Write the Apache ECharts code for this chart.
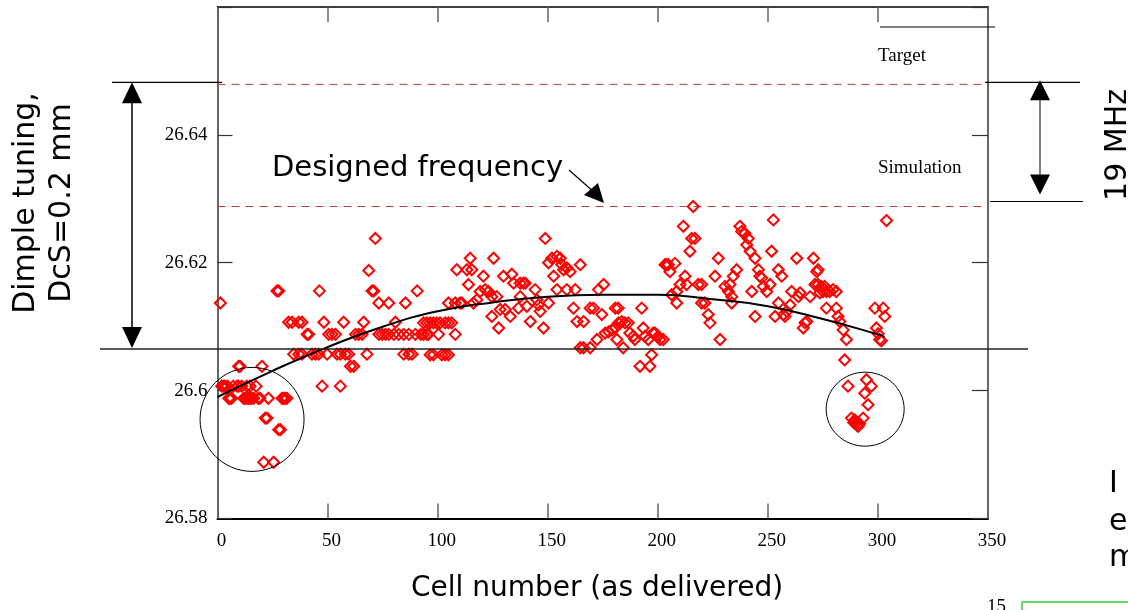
<!DOCTYPE html>
<html><head><meta charset="utf-8">
<script src="https://cdn.jsdelivr.net/npm/echarts@6/dist/echarts.min.js"></script>
<style>html,body{margin:0;padding:0;background:#fff}#c{width:1128px;height:610px}</style>
</head><body><div id="c"></div>
<script>
// ---- data ----
const xTickLabels = ['0','50','100','150','200','250','300','350'];
const yTickLabels = ['26.58','26.6','26.62','26.64',''];
const targetLevel = 26.6479;      // "Target" dashed line
const simulationLevel = 26.6288;  // "Simulation" dashed line
const designLevel = 26.6065;      // solid reference line
const levelSpan = [0, 350];       // cell range spanned by the dashed levels
const xTitle = 'Cell number (as delivered)';
const yTitle = 'Dimple tuning,\nDcS=0.2 mm';
const designText = 'Designed frequency';

// measured cells: [cell number, frequency GHz]
const measured = [
[1.3,26.6137],[1.9,26.6007],[2.6,26.6007],[3.4,26.6007],[4.5,26.6007],[7.2,26.6007],[8.9,26.6007],[9.5,26.6007],[11.0,26.6007],[13.3,26.6007],[14.8,26.6007],[17.5,26.6007],
[5.1,26.5988],[5.7,26.5988],[6.4,26.5988],[11.9,26.5988],[12.5,26.5988],[13.4,26.5988],[14.0,26.5988],[14.8,26.5988],[15.5,26.5988],[16.4,26.5988],[18.5,26.5988],[19.3,26.5988],[23.1,26.5988],[29.3,26.5988],[29.9,26.5988],[30.7,26.5988],[31.5,26.5988],
[9.6,26.6038],[10.2,26.6038],[20.2,26.6038],
[21.7,26.5957],[22.5,26.5957],[27.8,26.5939],[28.6,26.5939],[21.0,26.5888],[25.5,26.5888],
[27.0,26.6156],[27.8,26.6156],[46.3,26.6156],
[32.3,26.6107],[33.9,26.6107],[36.9,26.6107],[38.4,26.6107],[48.3,26.6107],[57.3,26.6107],[66.4,26.6107],
[40.7,26.6088],[41.4,26.6088],[50.5,26.6088],[52.0,26.6088],[53.6,26.6088],[62.7,26.6088],[64.2,26.6088],[65.7,26.6088],[73.3,26.6088],[74.8,26.6088],[76.3,26.6088],[77.8,26.6088],[80.1,26.6088],[82.3,26.6088],[84.6,26.6088],[86.9,26.6088],[89.9,26.6088],[92.4,26.6088],
[34.6,26.6057],[36.9,26.6057],[38.4,26.6057],[42.9,26.6057],[44.5,26.6057],[46.0,26.6057],[49.8,26.6057],[54.3,26.6057],[55.8,26.6057],[58.1,26.6057],[59.6,26.6057],[67.9,26.6057],[84.6,26.6057],[86.9,26.6057],[88.4,26.6057],
[60.4,26.6038],[61.9,26.6038],[47.5,26.6007],[55.8,26.6007],
[68.7,26.6188],[70.2,26.6156],[71.0,26.6156],[90.7,26.6156],[71.7,26.6238],
[73.3,26.6137],[77.8,26.6137],[85.4,26.6137],[80.8,26.6107],
[93.6,26.6106],[95.1,26.6106],[96.6,26.6106],[98.1,26.6106],[99.6,26.6106],[101.1,26.6106],[103.4,26.6106],[104.9,26.6106],[106.4,26.6106],
[93.6,26.6088],[95.1,26.6088],[95.8,26.6088],[100.4,26.6088],[108.0,26.6088],
[96.6,26.6056],[98.1,26.6056],[101.9,26.6056],[103.4,26.6056],[104.9,26.6056],
[104.9,26.6137],[108.0,26.6137],[110.2,26.6137],[111.0,26.6137],[116.3,26.6137],[117.8,26.6142],
[119.3,26.6155],[123.1,26.6155],[121.6,26.6158],[124.6,26.6147],[126.9,26.6147],
[108.7,26.6189],[113.3,26.6189],[115.5,26.6189],[114.8,26.6207],[125.4,26.6207],[114.0,26.6166],
[120.8,26.6179],[129.9,26.6179],[133.7,26.6182],[134.5,26.6168],[137.5,26.6168],[139.0,26.6168],[139.8,26.6168],
[124.6,26.6116],[127.7,26.6098],[128.4,26.6127],[130.7,26.6127],[133.0,26.6116],[136.7,26.6129],[137.5,26.6147],
[140.5,26.6132],[142.1,26.6108],[144.3,26.6158],[145.1,26.6142],[145.8,26.6134],[146.6,26.6124],[148.1,26.6098],[150.4,26.6137],
[148.9,26.6238],[151.9,26.6207],[155.7,26.6207],[152.7,26.6179],[154.2,26.6210],[156.4,26.6197],[164.8,26.6197],
[157.2,26.6189],[158.7,26.6192],[160.2,26.6186],[150.4,26.6200],
[154.2,26.6158],[158.7,26.6158],[162.5,26.6158],
[161.7,26.6129],[169.3,26.6129],[170.8,26.6129],[180.7,26.6129],[163.3,26.6108],[166.3,26.6108],
[173.1,26.6158],[175.4,26.6166],[174.6,26.6119],
[164.8,26.6067],[166.3,26.6067],[169.3,26.6067],[172.4,26.6080],[181.4,26.6080],[176.1,26.6090],[177.7,26.6092],[179.2,26.6095],[180.7,26.6098],[182.2,26.6106],
[182.0,26.6129],[183.6,26.6108],[185.1,26.6106],[186.6,26.6106],[187.3,26.6090],[188.9,26.6085],[189.6,26.6080],
[192.7,26.6129],[193.4,26.6098],[194.2,26.6085],[195.7,26.6080],[197.2,26.6056],[196.4,26.6038],[191.9,26.6038],
[197.9,26.6090],[198.7,26.6090],[200.2,26.6085],[201.0,26.6080],[202.5,26.6080],[184.3,26.6067],
[216.1,26.6288],[211.6,26.6257],[215.4,26.6238],[216.9,26.6238],[214.6,26.6218],
[203.3,26.6197],[204.0,26.6197],[204.8,26.6197],[205.5,26.6186],[207.8,26.6199],
[212.4,26.6179],[210.1,26.6166],[208.6,26.6155],[213.1,26.6166],[218.4,26.6166],[219.9,26.6166],
[206.3,26.6150],[208.6,26.6137],[219.9,26.6137],[221.4,26.6137],[222.9,26.6119],[223.7,26.6106],
[226.0,26.6179],[227.5,26.6207],[228.3,26.6080],[230.5,26.6163],[232.1,26.6155],[232.8,26.6166],
[234.3,26.6179],[235.8,26.6189],[233.6,26.6147],[233.6,26.6137],
[237.3,26.6257],[238.1,26.6249],[239.6,26.6246],[241.1,26.6238],[240.4,26.6228],[241.9,26.6218],[244.2,26.6207],
[251.7,26.6218],[252.5,26.6267],[245.7,26.6189],[246.4,26.6179],[247.2,26.6176],[248.0,26.6163],[249.5,26.6155],
[251.0,26.6166],[254.8,26.6189],[256.3,26.6179],[242.7,26.6155],[244.2,26.6116],[253.3,26.6116],[254.8,26.6137],
[257.1,26.6119],[258.6,26.6124],[260.1,26.6134],[260.8,26.6155],[263.1,26.6207],[263.9,26.6147],[264.6,26.6153],
[266.9,26.6106],[266.1,26.6098],[267.7,26.6108],[269.2,26.6147],[270.7,26.6207],[271.4,26.6166],[272.2,26.6186],[257.8,26.6116],
[272.8,26.6189],[272.8,26.6166],[274.3,26.6163],[275.1,26.6155],[276.6,26.6155],[278.1,26.6155],[279.6,26.6158],[281.1,26.6155],[273.6,26.6153],[275.8,26.6163],
[276.6,26.6129],[281.1,26.6129],[281.9,26.6116],[282.7,26.6108],[284.2,26.6095],[285.7,26.6080],
[284.9,26.6048],[286.4,26.6007],[294.8,26.6017],[297.0,26.6007],[294.0,26.5996],[295.5,26.5978],[293.3,26.5957],
[288.0,26.5957],[289.5,26.5954],[290.2,26.5950],[291.0,26.5944],[291.7,26.5948],[289.0,26.5950],[290.5,26.5946],
[298.6,26.6129],[302.4,26.6129],[303.1,26.6116],[299.3,26.6098],[300.1,26.6089],[300.8,26.6080],[301.6,26.6078],
[303.9,26.6266]
];

// polynomial fit curve through the data
const fitCurve = [
[0,26.5990],[25,26.6031],[50,26.6068],[75,26.6100],[100,26.6124],[125,26.6138],[150,26.6147],
[175,26.6150],[200,26.6150],[225,26.6143],[250,26.6132],[275,26.6112],[300,26.6088],[303,26.6084]
];

// circled outlier groups: [cell, freq] centres
const circledGroups = [[15.7,26.5955],[294.2,26.5971]];

const serif = 'Liberation Serif';
const sans = 'DejaVu Sans';

const chart = echarts.init(document.getElementById('c'), null, {renderer:'canvas'});
const axisCommonX = {type:'value', min:0, max:350, interval:50};
const axisCommonY = {type:'value', min:26.58, max:26.66, interval:0.02};
const dashStyle = {color:'#c43a3a', type:[8,6], width:1};
const option = {
  animation:false,
  backgroundColor:'#fff',
  grid:{left:217.5, top:7, width:770.5, height:511.5, containLabel:false, outerBoundsMode:'none'},
  xAxis:[
    Object.assign({}, axisCommonX, {position:'bottom',
      axisLine:{show:true, onZero:false, lineStyle:{color:'#000', width:2}},
      axisTick:{show:true, inside:true, length:15, lineStyle:{color:'#666', width:1.5}},
      axisLabel:{show:true, margin:13, color:'#000', fontFamily:serif, fontSize:19, padding:[0,0,0,8],
        formatter:(v,i)=>xTickLabels[i] ?? ''},
      splitLine:{show:false}}),
    Object.assign({}, axisCommonX, {position:'top',
      axisLine:{show:true, onZero:false, lineStyle:{color:'#000', width:1.5}},
      axisTick:{show:true, inside:true, length:15, lineStyle:{color:'#666', width:1.5}},
      axisLabel:{show:false}, splitLine:{show:false}})
  ],
  yAxis:[
    Object.assign({}, axisCommonY, {position:'left',
      axisLine:{show:true, onZero:false, lineStyle:{color:'#666', width:2}},
      axisTick:{show:true, inside:true, length:15, lineStyle:{color:'#333', width:1.2}},
      axisLabel:{show:true, margin:10, color:'#000', fontFamily:serif, fontSize:19, padding:[8,0,0,0],
        formatter:(v,i)=>yTickLabels[i] ?? ''},
      splitLine:{show:false}}),
    Object.assign({}, axisCommonY, {position:'right',
      axisLine:{show:true, onZero:false, lineStyle:{color:'#666', width:2}},
      axisTick:{show:true, inside:true, length:16, lineStyle:{color:'#333', width:1.2}},
      axisLabel:{show:false}, splitLine:{show:false}})
  ],
  series:[
    {type:'line', name:'Target', data:levelSpan.map(x=>[x,targetLevel]), showSymbol:false, symbol:'none',
      lineStyle:dashStyle, silent:true, z:1},
    {type:'line', name:'Simulation', data:levelSpan.map(x=>[x,simulationLevel]), showSymbol:false, symbol:'none',
      lineStyle:dashStyle, silent:true, z:1},
    {type:'scatter', xAxisIndex:0, yAxisIndex:0, data:measured, symbol:'diamond', symbolSize:11,
      itemStyle:{color:'rgba(255,255,255,0)', borderColor:'#ff0000', borderWidth:2, opacity:1},
      emphasis:{disabled:true}, z:3},
    {type:'line', xAxisIndex:0, yAxisIndex:0, data:fitCurve, smooth:true, showSymbol:false, symbol:'none',
      lineStyle:{color:'#000', width:2}, z:5}
  ]
};
chart.setOption(option);

function px(x,y){return chart.convertToPixel({xAxisIndex:0,yAxisIndex:0},[x,y]);}
const yT = px(0,targetLevel)[1], yS = px(0,simulationLevel)[1], yD = px(0,designLevel)[1];
const c1 = px(circledGroups[0][0], circledGroups[0][1]);
const c2 = px(circledGroups[1][0], circledGroups[1][1]);
const blk = {stroke:'#000', lineWidth:1.2};
function L(x1,y1,x2,y2,st){return {type:'line', shape:{x1,y1,x2,y2}, style:Object.assign({}, blk, st||{}), silent:true, z:10};}
function P(pts){return {type:'polygon', shape:{points:pts}, style:{fill:'#000'}, silent:true, z:10};}
function T(x,y,text,font,size,opt){return Object.assign({type:'text', x, y, silent:true, z:10,
  style:{text, fill:'#000', font:size+'px "'+font+'"', align:'left', verticalAlign:'middle'}}, opt||{});}

const g = [
  L(100,yD,1028,yD,{stroke:'#222', lineWidth:1.5}),
  // left bracket arrow
  L(112,yT-2,222,yT-2),
  L(132,yT+15,132,yD-15,{lineWidth:1.5}),
  P([[132,yT-2],[122,yT+19],[142,yT+19]]),
  P([[132,yD-1],[122,yD-22],[142,yD-22]]),
  // right bracket arrow
  L(985,yT-2,1080,yT-2),
  L(990,yS-5,1083,yS-5),
  L(880,27,995,27),
  L(1040,yT+12,1040,yS-20,{stroke:'#555', lineWidth:1.5}),
  P([[1040,yT-4],[1030,yT+16],[1050,yT+16]]),
  P([[1040,yS-12],[1030,yS-32],[1050,yS-32]]),
  // designed frequency arrow
  L(569,170,595,193,{lineWidth:1.2}),
  P([[604,203],[584,195],[598,183]]),
  // circles
  {type:'ellipse', shape:{cx:c1[0], cy:c1[1], rx:52, ry:52}, style:{stroke:'#000', lineWidth:1, fill:null}, silent:true, z:10},
  {type:'ellipse', shape:{cx:c2[0], cy:c2[1], rx:39, ry:37}, style:{stroke:'#000', lineWidth:1, fill:null}, silent:true, z:10},
  // texts
  T(878,56,'Target',serif,19),
  T(878,168,'Simulation',serif,19),
  T(272,168,designText,sans,29),
  {type:'text', x:597, y:589, silent:true, z:10,
    style:{text:xTitle, fill:'#000', font:'28px "'+sans+'"', align:'center', verticalAlign:'middle'}},
  {type:'text', x:44, y:203, rotation:Math.PI/2, silent:true, z:10,
    style:{text:yTitle, fill:'#000', font:'30px "'+sans+'"', align:'center', verticalAlign:'middle', lineHeight:36}},
  {type:'text', x:1118, y:145, rotation:Math.PI/2, silent:true, z:10,
    style:{text:'19 MHz', fill:'#000', font:'30px "'+sans+'"', align:'center', verticalAlign:'middle'}},
  // fragments of neighbouring slide content
  T(1109,484,'I',sans,30),
  T(1109,522,'e',sans,30),
  T(1109,558,'m',sans,30),
  {type:'text', x:987, y:598, silent:true, z:10, style:{text:'15', fill:'#000', font:'19px "'+serif+'"', align:'left', verticalAlign:'top'}},
  L(1022,602,1022,612,{stroke:'#33cc33', lineWidth:1.5}),
  L(1022,602,1130,602,{stroke:'#33cc33', lineWidth:1.5})
];
chart.setOption({graphic:g});
</script>
</body></html>
